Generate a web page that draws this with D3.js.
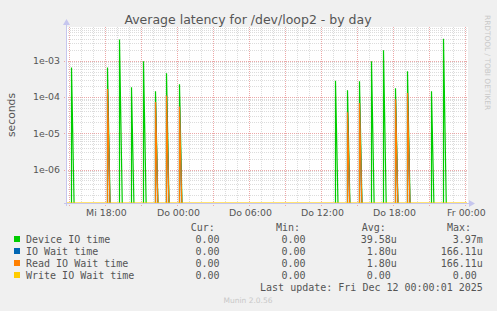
<!DOCTYPE html>
<html>
<head>
<meta charset="utf-8">
<script src="https://cdn.jsdelivr.net/npm/d3@7"></script>
<style>
  html, body { margin: 0; padding: 0; background: #f0f0f0; }
  svg { display: block; }
  text { font-family: "DejaVu Sans", sans-serif; }
  text.mono { font-family: "DejaVu Sans Mono", monospace; white-space: pre; }
</style>
</head>
<body>
<div id="chart"></div>
<script>
const spikeTimes = ["Mi 15:08", "Mi 18:10", "Mi 19:10", "Mi 20:10", "Mi 21:10", "Mi 22:10", "Mi 23:05",
  "Do 00:10", "Do 13:10", "Do 14:10", "Do 15:10", "Do 16:10", "Do 17:10", "Do 18:10", "Do 19:10",
  "Do 21:10", "Do 22:10"];
const deviceIO = [6.4e-4, 6.4e-4, 3.8e-3, 1.84e-4, 9.6e-4, 1.43e-4, 4.46e-4,
  2.22e-4, 2.8e-4, 1.52e-4, 2.7e-4, 9.6e-4, 1.92e-3, 1.72e-4, 5.1e-4,
  1.43e-4, 3.97e-3];
const ioWait = [0, 1.66e-4, 0, 0, 0, 7.2e-5, 1.09e-4,
  5.4e-5, 0, 3.8e-5, 6.8e-5, 0, 0, 8.6e-5, 1.28e-4,
  0, 0];
const readWait = ioWait.slice();
const writeWait = spikeTimes.map(() => 0);

const xTickLabels = ["Mi 18:00", "Do 00:00", "Do 06:00", "Do 12:00", "Do 18:00", "Fr 00:00"];
const yTickValues = [1e-3, 1e-4, 1e-5, 1e-6];

const seriesNames = ["Device IO time", "IO Wait time", "Read IO Wait time", "Write IO Wait time"];
const seriesColors = ["#00cc00", "#0066b3", "#ff8000", "#ffcc00"];
const curVals = ["0.00 ", "0.00 ", "0.00 ", "0.00 "];
const minVals = ["0.00 ", "0.00 ", "0.00 ", "0.00 "];
const avgVals = ["39.58u", "1.80u", "1.80u", "0.00 "];
const maxVals = ["3.97m", "166.11u", "166.11u", "0.00 "];

// "Mi 15:08" -> hours since Mi 00:00
const dayOffset = { Mi: 0, Do: 24, Fr: 48 };
const toHours = s => {
    const [d, hm] = s.split(" ");
    const [h, m] = hm.split(":").map(Number);
    return dayOffset[d] + h + m / 60;
};

const W = 497, H = 311;
const plot = { left: 67, right: 467, top: 27, bottom: 203 };

const svg = d3.select("#chart").append("svg")
    .attr("width", W).attr("height", H);

const x = d3.scaleLinear()
    .domain([14.8, 48 + 8 / 60])
    .range([plot.left, plot.right]);

const y = d3.scaleLog()
    .domain([1.2e-7, 8.4e-3])
    .range([plot.bottom, plot.top]);

const px = v => Math.round(v) + 0.5;

// title
svg.append("text")
    .attr("x", 248).attr("y", 24)
    .attr("text-anchor", "middle")
    .attr("font-size", "12.5px")
    .attr("fill", "#555")
    .text("Average latency for /dev/loop2 - by day");

svg.append("text")
    .attr("transform", "translate(484.5,15) rotate(90)")
    .attr("font-size", "7.4px")
    .attr("fill", "#c8c8c8")
    .text("RRDTOOL / TOBI OETIKER");

// plot background
svg.append("rect")
    .attr("x", plot.left).attr("y", plot.top)
    .attr("width", plot.right - plot.left + 1)
    .attr("height", plot.bottom - plot.top)
    .attr("fill", "#fff");

// grid
const grid = svg.append("g").attr("stroke-width", 1).attr("stroke-dasharray", "1,1");
const hours = d3.range(15, 49);
grid.selectAll(".vminor")
    .data(hours.filter(h => h % 3 !== 0))
    .join("line")
    .attr("x1", d => px(x(d))).attr("x2", d => px(x(d)))
    .attr("y1", plot.top).attr("y2", plot.bottom)
    .attr("stroke", "#dcdcdc");

const yMinor = [];
for (let e = -7; e <= -3; e++) {
    for (let k = 2; k <= 9; k++) {
        const v = k * Math.pow(10, e);
        if (v > y.domain()[0] && v < y.domain()[1]) yMinor.push(v);
    }
}
grid.selectAll(".hminor")
    .data(yMinor)
    .join("line")
    .attr("x1", plot.left - 1).attr("x2", plot.right + 1)
    .attr("y1", d => px(y(d))).attr("y2", d => px(y(d)))
    .attr("stroke", "#dcdcdc");

grid.selectAll(".vmajor")
    .data(hours.filter(h => h % 3 === 0))
    .join("line")
    .attr("x1", d => px(x(d))).attr("x2", d => px(x(d)))
    .attr("y1", plot.top).attr("y2", plot.bottom + 3)
    .attr("stroke", "#eca8a8");

grid.selectAll(".hmajor")
    .data(yTickValues)
    .join("line")
    .attr("x1", plot.left - 3).attr("x2", plot.right + 1)
    .attr("y1", d => px(y(d))).attr("y2", d => px(y(d)))
    .attr("stroke", "#eca8a8");

// y tick labels
svg.append("g").selectAll("text")
    .data(yTickValues)
    .join("text")
    .attr("x", 60).attr("y", d => y(d) + 3.4)
    .attr("text-anchor", "end")
    .attr("font-size", "9.4px")
    .attr("fill", "#555")
    .text(d => d3.format(".0e")(d).replace(/e-(\d)$/, "e-0$1"));

// x tick labels (every 6 hours)
const labelHours = xTickLabels.map(toHours);
svg.append("g").selectAll("text")
    .data(labelHours)
    .join("text")
    .attr("x", d => x(d) + 1)
    .attr("y", 216)
    .attr("text-anchor", "middle")
    .attr("font-size", "9.4px")
    .attr("fill", "#555")
    .text((d, i) => xTickLabels[i]);

// y axis label
svg.append("text")
    .attr("transform", "translate(14.5,115) rotate(-90)")
    .attr("text-anchor", "middle")
    .attr("font-size", "10.8px")
    .attr("fill", "#555")
    .text("seconds");

// series
svg.append("clipPath").attr("id", "plotclip")
    .append("rect")
    .attr("x", plot.left).attr("y", plot.top - 2)
    .attr("width", plot.right - plot.left + 1)
    .attr("height", plot.bottom - plot.top + 2.5);

const floorVal = 1e-9;
const tail = 20 / 60;
const spikeLine = d3.line()
    .x(d => px(x(d[0])))
    .y(d => y(d[1] > 0 ? d[1] : floorVal));

const seriesData = [deviceIO, ioWait, readWait];
const tHours = spikeTimes.map(toHours);
const gSeries = svg.append("g").attr("clip-path", "url(#plotclip)");

seriesData.forEach((vals, si) => {
    vals.forEach((v, i) => {
        if (v <= 0) return;
        const t = tHours[i];
        gSeries.append("path")
            .attr("d", spikeLine([[t, 0], [t, v], [t + tail, 0]]))
            .attr("fill", "none")
            .attr("stroke", seriesColors[si])
            .attr("stroke-width", 1.2);
    });
});

// axes
const axisColor = "#c6c6ee";
svg.append("line")
    .attr("x1", plot.left - 0.5).attr("x2", plot.left - 0.5)
    .attr("y1", plot.bottom + 3).attr("y2", plot.top - 3)
    .attr("stroke", axisColor);
svg.append("path")
    .attr("d", `M${plot.left - 4},${plot.top - 2} L${plot.left - 0.5},${plot.top - 8} L${plot.left + 3},${plot.top - 2} Z`)
    .attr("fill", axisColor);
svg.append("line")
    .attr("x1", plot.left - 3).attr("x2", plot.right + 4)
    .attr("y1", plot.bottom + 0.5).attr("y2", plot.bottom + 0.5)
    .attr("stroke", axisColor);
svg.append("path")
    .attr("d", `M${plot.right + 2},${plot.bottom - 3} L${plot.right + 8},${plot.bottom + 0.5} L${plot.right + 2},${plot.bottom + 4} Z`)
    .attr("fill", axisColor);

// write series: all zero, sits on the bottom edge
const yClamp = y.copy().clamp(true);
const writeLine = d3.line()
    .x(d => x(d[0]))
    .y(d => px(yClamp(d[1] > 0 ? d[1] : floorVal)) - 1);
svg.append("path")
    .attr("d", writeLine([[x.domain()[0], writeWait[0]], [x.domain()[1], writeWait[writeWait.length - 1]]]))
    .attr("fill", "none")
    .attr("stroke", seriesColors[3])
    .attr("stroke-opacity", 0.55)
    .attr("stroke-width", 1);

// legend
const charW = 6.02;
const legendTop = 243;
const rowH = 12;
const mono = svg.append("g").attr("font-size", "10px").attr("fill", "#555");
const monoText = (tx, ty, s) => mono.append("text").attr("class", "mono")
    .attr("x", tx).attr("y", ty).text(s);

const headers = [["Cur:", 190.7], ["Min:", 276], ["Avg:", 361.7], ["Max:", 447]];
headers.forEach(([t, hx]) => monoText(hx, legendTop - rowH, t));

const colEnds = [225.5, 311.5, 396.8, 482.8];
const cols = [curVals, minVals, avgVals, maxVals];

seriesNames.forEach((name, i) => {
    const ry = legendTop + i * rowH;
    svg.append("rect")
        .attr("x", 14).attr("y", ry - 7)
        .attr("width", 6).attr("height", 6)
        .attr("fill", seriesColors[i]);
    monoText(26, ry, name);
    cols.forEach((col, c) => {
        const s = col[i];
        monoText(colEnds[c] - charW * s.length, ry, s);
    });
});

const lastUpdate = "Last update: Fri Dec 12 00:00:01 2025";
monoText(482.8 - charW * lastUpdate.length, legendTop + 4 * rowH, lastUpdate);

svg.append("text")
    .attr("x", 248).attr("y", 302.5)
    .attr("text-anchor", "middle")
    .attr("font-size", "7.5px")
    .attr("fill", "#c8c8c8")
    .text("Munin 2.0.56");
</script>
</body>
</html>
